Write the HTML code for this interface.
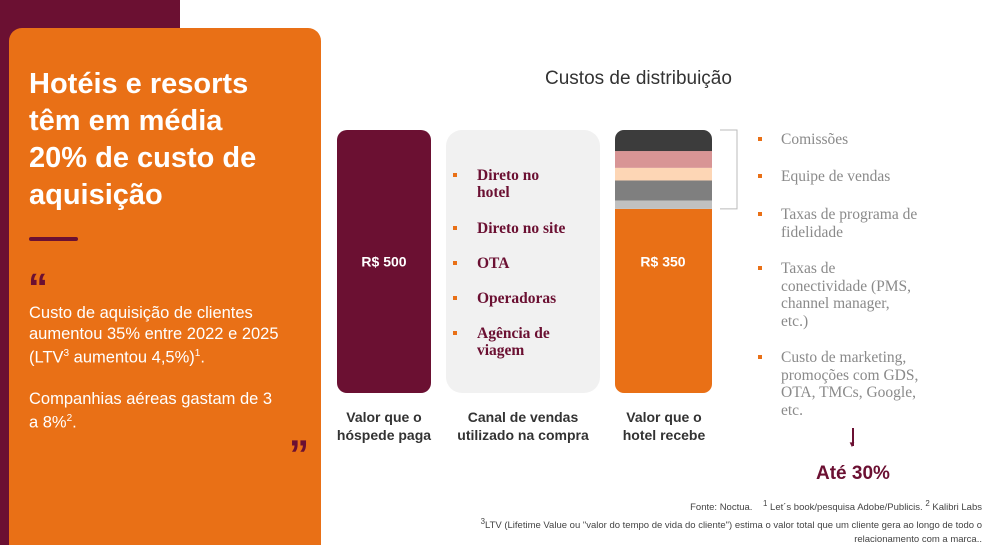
<!DOCTYPE html>
<html><head><meta charset="utf-8"><style>
*{margin:0;padding:0;box-sizing:border-box}
html,body{width:990px;height:545px;overflow:hidden}
body{position:relative;background:#fff;font-family:"Liberation Sans",sans-serif}
.a{position:absolute}
.mar{color:#6b1032}
.li{position:absolute;left:453px;font:bold 15.5px "Liberation Serif",serif;color:#6b1032;line-height:17px}
.li:before{content:"";width:4px;height:4px;background:#e97016;position:absolute;left:0;top:6px}
.li span{display:block;padding-left:24px}
.ri{position:absolute;left:757px;font:15.5px "Liberation Serif",serif;color:#8a8a8a;line-height:17.5px}
.ri:before{content:"";width:4px;height:4px;background:#e97016;position:absolute;left:1px;top:6px}
.ri span{display:block;padding-left:24px}
.cap{position:absolute;text-align:center;font-size:14px;color:#333;line-height:18px;font-weight:bold}
</style></head><body>
<div class="a" style="left:0;top:0;width:180px;height:545px;background:#6b1032"></div>
<div class="a" style="left:9px;top:28px;width:312px;height:540px;background:#e97016;border-radius:13px"></div>
<div class="a" style="left:29px;top:66px;width:250px;color:#fff;font-weight:bold;font-size:29px;line-height:37px">Hotéis e resorts têm em média 20% de custo de aquisição</div>
<div class="a" style="left:29px;top:237px;width:49px;height:4px;background:#6b1032;border-radius:2px"></div>
<div class="a mar" style="left:28px;top:268px;font:bold 40px 'Liberation Sans',sans-serif;line-height:40px">“</div>
<div class="a" style="left:29px;top:303px;width:295px;color:#fff;font-size:16.5px;line-height:20.5px;white-space:nowrap">Custo de aquisição de clientes<br>aumentou 35% entre 2022 e 2025<br>(LTV<sup style="font-size:10px">3</sup> aumentou 4,5%)<sup style="font-size:10px">1</sup>.<br><br>Companhias aéreas gastam de 3<br>a 8%<sup style="font-size:10px">2</sup>.</div>
<div class="a mar" style="left:289px;top:435px;font:bold 40px 'Liberation Sans',sans-serif;line-height:40px">”</div>

<div class="a" style="left:545px;top:68px;font-size:19px;color:#333">Custos de distribuição</div>
<svg class="a" id="chart" style="left:0;top:0" width="990" height="545"></svg>

<div class="li" style="top:167px"><span>Direto no<br>hotel</span></div>
<div class="li" style="top:220px"><span>Direto no site</span></div>
<div class="li" style="top:255px"><span>OTA</span></div>
<div class="li" style="top:290px"><span>Operadoras</span></div>
<div class="li" style="top:325px"><span>Agência de<br>viagem</span></div>

<div class="ri" style="top:131px"><span>Comissões</span></div>
<div class="ri" style="top:168px"><span>Equipe de vendas</span></div>
<div class="ri" style="top:206px"><span>Taxas de programa de<br>fidelidade</span></div>
<div class="ri" style="top:260px"><span>Taxas de<br>conectividade (PMS,<br>channel manager,<br>etc.)</span></div>
<div class="ri" style="top:349px"><span>Custo de marketing,<br>promoções com GDS,<br>OTA, TMCs, Google,<br>etc.</span></div>

<div class="cap" style="left:330px;top:408px;width:108px">Valor que o<br>hóspede paga</div>
<div class="cap" style="left:450px;top:408px;width:146px">Canal de vendas<br>utilizado na compra</div>
<div class="cap" style="left:610px;top:408px;width:108px">Valor que o<br>hotel recebe</div>

<div class="a" style="left:852px;top:428px;width:1.5px;height:18px;background:#6b1032"></div>
<div class="a mar" style="left:848px;top:440px;font-size:8px">▼</div>
<div class="a mar" style="left:816px;top:463px;font-weight:bold;font-size:19px">Até 30%</div>
<div class="a" style="right:8px;top:497px;width:600px;text-align:right;font-size:9.5px;line-height:14px;color:#444">Fonte: Noctua.&nbsp;&nbsp;&nbsp; <sup>1</sup> Let´s book/pesquisa Adobe/Publicis. <sup>2</sup> Kalibri Labs<br><sup>3</sup>LTV (Lifetime Value ou "valor do tempo de vida do cliente") estima o valor total que um cliente gera ao longo de todo o<br>relacionamento com a marca..</div>

<script>
const totalValue = 500;
const hotelValue = 350;
const costCategories = ['Comissões','Equipe de vendas','Taxas de programa de fidelidade','Taxas de conectividade','Custo de marketing'];
const costValues = [40, 32, 24, 38, 16];
const costColors = ['#3c3c3c','#d89595','#fdd6b5','#7f7f7f','#c0c0c0'];
const NS='http://www.w3.org/2000/svg';
const svg=document.getElementById('chart');
const baseY=393, topY=130, scale=(baseY-topY)/totalValue;
const y=v=>baseY-v*scale;
function mk(t,a){const e=document.createElementNS(NS,t);for(const k in a)e.setAttribute(k,a[k]);svg.appendChild(e);return e;}
let r=mk('rect',{x:337,y:y(totalValue),width:94,height:totalValue*scale,rx:10,fill:'#6b1032'});


let g=mk('rect',{x:446,y:topY,width:154,height:baseY-topY,rx:16,fill:'#f1f1f1'});


let clip=mk('clipPath',{id:'hc'});
const cr=document.createElementNS(NS,'rect');clip.appendChild(cr);
cr.setAttribute('x',615);cr.setAttribute('width',97);cr.setAttribute('rx',9);
let acc=hotelValue;costValues.forEach(v=>acc+=v);
cr.setAttribute('y',y(acc));cr.setAttribute('height',acc*scale);
let o=mk('rect',{x:615,y:y(hotelValue),width:97,height:hotelValue*scale,fill:'#e97016','clip-path':'url(#hc)'});


let cum=hotelValue;
costValues.slice().reverse().forEach((v,i)=>{const idx=costValues.length-1-i;
 const s=mk('rect',{x:615,y:y(cum+v),width:97,height:v*scale,fill:costColors[idx],'clip-path':'url(#hc)'});
 
 
 cum+=v;});
const br=mk('path',{d:`M720 ${y(cum)} H737 V${y(hotelValue)} H720`,fill:'none',stroke:'#bbb','stroke-width':1});


function lab(x,v,name){const t=mk('text',{x:x,y:(y(totalValue)+baseY)/2+5,'text-anchor':'middle',fill:'#fff','font-weight':'bold','font-size':14,'font-family':'Liberation Sans'});t.textContent='R$ '+v;
 
 }
lab(384,totalValue,'label-500');lab(663,hotelValue,'label-350');
</script>
</body></html>
